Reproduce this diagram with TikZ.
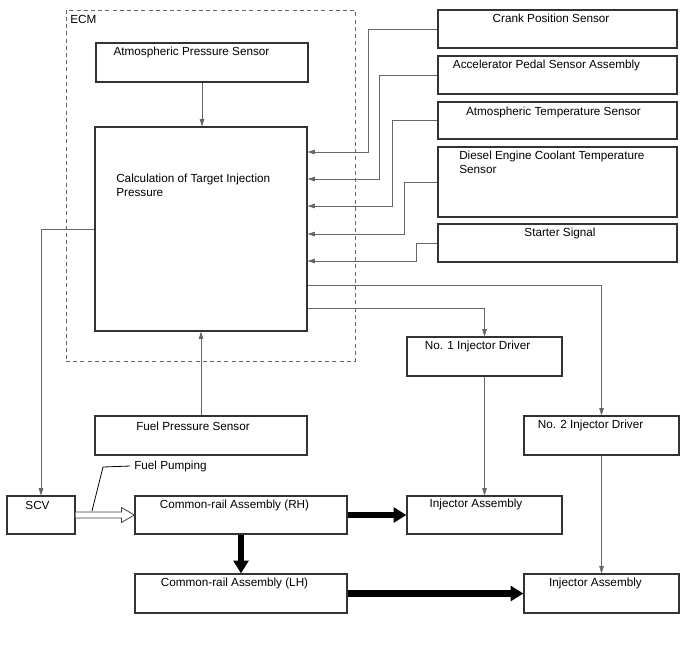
\documentclass[tikz,border=0pt]{standalone}
\usepackage{fontspec}
\setmainfont{Liberation Sans}
\usetikzlibrary{arrows.meta,fit,calc}
\begin{document}
\begin{tikzpicture}[x=0.75pt,y=-0.75pt,
  box/.style={draw=black!80,line width=0.9pt,inner sep=0pt,rectangle},
  txt/.style={inner sep=0pt,font=\fontsize{8.8}{10.3}\selectfont,align=left},
  sig/.style={draw=black!60,line width=0.6pt,-{Triangle[length=5.5pt,width=3.4pt]}},
  wire/.style={draw=black!60,line width=0.6pt},
  fat/.style={draw=black,line width=4.8pt,-{Triangle[length=9.5pt,width=11pt]}}]
\useasboundingbox (0,0) rectangle (688,658);
% ECM frame
\node[draw=black!60,dash pattern=on 3pt off 2.4pt,line width=0.6pt,inner sep=0pt,fit={(66,10)(355,361)}] (ecm) {};
\node[txt,anchor=west] (ecmlbl) at (70,19) {ECM};
% boxes
\node[box,fit={(96,43)(308,82)}] (aps) {};
\node[box,fit={(95,127)(307,331)}] (calc) {};
\node[box,fit={(438,10)(677,48)}] (crank) {};
\node[box,fit={(438,56)(677,94)}] (accel) {};
\node[box,fit={(438,102)(677,139)}] (atmt) {};
\node[box,fit={(438,147)(677,217)}] (ect) {};
\node[box,fit={(438,224)(677,262)}] (start) {};
\node[box,fit={(407,337)(562,376)}] (drv1) {};
\node[box,fit={(524,416)(679,455)}] (drv2) {};
\node[box,fit={(407,496)(562,534)}] (inj1) {};
\node[box,fit={(524,574)(679,613)}] (inj2) {};
\node[box,fit={(95,416)(307,455)}] (fps) {};
\node[box,fit={(7,496)(75,534)}] (scv) {};
\node[box,fit={(135,496)(347,534)}] (rh) {};
\node[box,fit={(135,574)(347,613)}] (lh) {};
% texts
\node[txt] (tAps) at (191.5,52) {Atmospheric Pressure Sensor};
\node[txt,anchor=north west] (tCalc) at (116,174) {Calculation of Target Injection\\Pressure};
\node[txt] (tCrank) at (551,18) {Crank Position Sensor};
\node[txt] (tAccel) at (546.5,65) {Accelerator Pedal Sensor Assembly};
\node[txt] (tAtmt) at (553.5,112) {Atmospheric Temperature Sensor};
\node[txt,anchor=north west] (tEct) at (459,151) {Diesel Engine Coolant Temperature\\Sensor};
\node[txt] (tStart) at (560,233) {Starter Signal};
\node[txt] (tDrv1) at (477.5,346) {No. 1 Injector Driver};
\node[txt] (tDrv2) at (590.5,425) {No. 2 Injector Driver};
\node[txt] (tInj1) at (476,504) {Injector Assembly};
\node[txt] (tInj2) at (595.5,583) {Injector Assembly};
\node[txt] (tFps) at (193,426) {Fuel Pressure Sensor};
\node[txt] (tScv) at (37.5,505) {SCV};
\node[txt] (tRh) at (234.5,505) {Common-rail Assembly (RH)};
\node[txt] (tLh) at (234.5,583) {Common-rail Assembly (LH)};
\node[txt,anchor=west] (tFp) at (134,466) {Fuel Pumping};
% signal connectors
\draw[sig] (aps.south) -- (aps.south |- calc.north);
\draw[sig] (fps.north) -- (fps.north |- calc.south);
\draw[sig] (crank.west) -| (368,152) -- (calc.east |- 0,152);
\draw[sig] (accel.west) -| (379,179) -- (calc.east |- 0,179);
\draw[sig] (atmt.west) -| (392,206) -- (calc.east |- 0,206);
\draw[sig] (ect.west) -| (404,234) -- (calc.east |- 0,234);
\draw[sig] (start.west) -| (416,261) -- (calc.east |- 0,261);
\draw[sig] (calc.east |- 0,285) -| (drv2.north);
\draw[sig] (calc.east |- 0,308) -| (drv1.north);
\draw[sig] (calc.west |- 0,229) -| (scv.north);
\draw[sig] (drv1.south) -- (inj1.north);
\draw[sig] (drv2.south) -- (inj2.north);
% fat arrows
\draw[fat] (rh.east) -- (inj1.west);
\draw[fat] (lh.east) -- (inj2.west);
\draw[fat] (rh.south) -- (lh.north);
% hollow arrow SCV -> RH
\draw[draw=black!75,line width=0.6pt,fill=white]
  ($(scv.east)+(0,-3)$) -- ($(rh.west)+(-13,-3)$) -- ($(rh.west)+(-13,-7.5)$)
  -- (rh.west) -- ($(rh.west)+(-13,7.5)$) -- ($(rh.west)+(-13,3)$)
  -- ($(scv.east)+(0,3)$);
\coordinate (fpend) at (92,511);
\draw[wire,draw=black] (tFp.west) ++(-4,0) -- (103,467) -- (fpend);
\end{tikzpicture}
\end{document}
